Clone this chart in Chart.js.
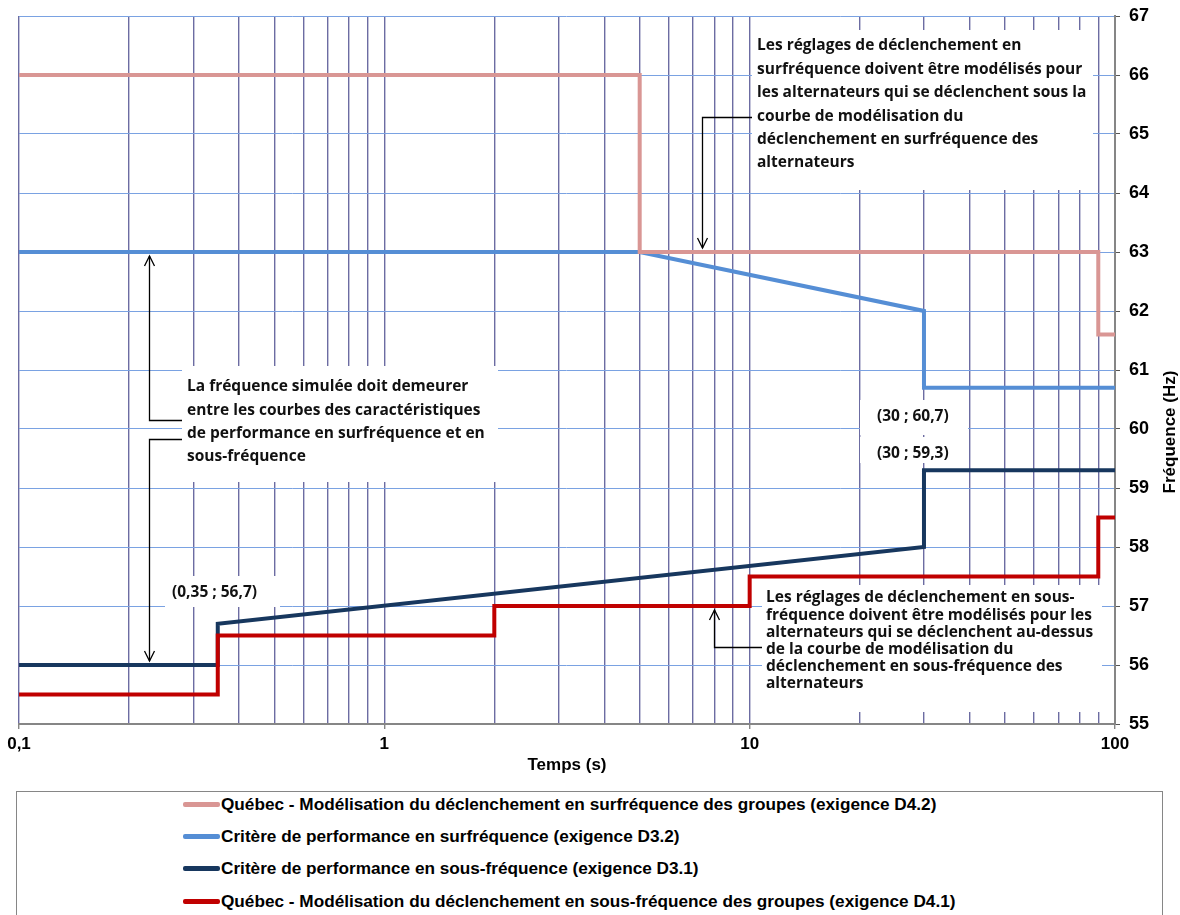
<!DOCTYPE html>
<html lang="fr">
<head>
    <meta charset="UTF-8">
    <title>Caractéristiques de performance en fréquence</title>
    <script src="https://cdn.jsdelivr.net/npm/chart.js"></script>
    <style>
        body { margin: 0; background: #fff; }
        #wrap { position: relative; width: 1180px; height: 780px; }
        #legend {
            position: absolute; left: 16px; top: 791px; width: 1147px; height: 140px;
            border: 1px solid #868686; box-sizing: border-box;
            font: bold 17.2px "Liberation Sans", Arial, sans-serif; color: #000;
        }
        .row { position: absolute; left: 0; height: 20px; line-height: 20px; white-space: nowrap; }
        .sample { position: absolute; left: 166px; top: 8px; width: 37px; height: 5px; border-radius: 2px; }
        .txt { position: absolute; left: 204px; top: 0; }
    </style>
</head>
<body>
    <div id="wrap"><canvas id="freq" width="1180" height="780"></canvas></div>
    <div id="legend"></div>
<script>
    // temps (s) / fréquence (Hz)
    const surX = [0.1, 5, 5, 90, 90, 100];
    const surY = [66, 66, 63, 63, 61.6, 61.6];
    const critSurX = [0.1, 5, 30, 30, 100];
    const critSurY = [63, 63, 62, 60.7, 60.7];
    const critSousX = [0.1, 0.35, 0.35, 30, 30, 100];
    const critSousY = [56, 56, 56.7, 58, 59.3, 59.3];
    const sousX = [0.1, 0.35, 0.35, 2, 2, 10, 10, 90, 90, 100];
    const sousY = [55.5, 55.5, 56.5, 56.5, 57, 57, 57.5, 57.5, 58.5, 58.5];

    const xMajor = [0.1, 1, 10, 100];
    const xMajorLabels = ["0,1", "1", "10", "100"];
    const xMinorSteps = [2, 3, 4, 5, 6, 7, 8, 9];

    const labels = [
        "Québec - Modélisation du déclenchement en surfréquence des groupes (exigence D4.2)",
        "Critère de performance en surfréquence (exigence D3.2)",
        "Critère de performance en sous-fréquence (exigence D3.1)",
        "Québec - Modélisation du déclenchement en sous-fréquence des groupes (exigence D4.1)"
    ];
    const colors = ["#D99694", "#558ED5", "#17375E", "#C00000"];

    function points(xs, ys) {
        return xs.map((x, i) => ({ x: x, y: ys[i] }));
    }

    const notes = [
        { box: [752, 30, 341, 160], x: 757, y: 46, gap: 23.4, lines: [
            "Les réglages de déclenchement en",
            "surfréquence doivent être modélisés pour",
            "les alternateurs qui se déclenchent sous la",
            "courbe de modélisation du",
            "déclenchement en surfréquence des",
            "alternateurs"] },
        { box: [182, 366, 316, 116], x: 187, y: 387, gap: 23.3, lines: [
            "La fréquence simulée doit demeurer",
            "entre les courbes des caractéristiques",
            "de performance en surfréquence et en",
            "sous-fréquence"] },
        { box: [762, 585, 340, 127], x: 766, y: 598, gap: 17.2, lines: [
            "Les réglages de déclenchement en sous-",
            "fréquence doivent être modélisés pour les",
            "alternateurs qui se déclenchent au-dessus",
            "de la courbe de modélisation du",
            "déclenchement en sous-fréquence des",
            "alternateurs"] },
        { box: [860, 400, 108, 35], x: 877, y: 417, gap: 0, lines: ["(30 ; 60,7)"] },
        { box: [860, 437, 108, 26], x: 877, y: 454, gap: 0, lines: ["(30 ; 59,3)"] },
        { box: [165, 576, 115, 31], x: 172, y: 593, gap: 0, lines: ["(0,35 ; 56,7)"] }
    ];

    // connectors: elbow start (px) and arrow tip in data units
    const arrows = [
        { from: [752, 117], tip: [7.4, 63], dir: 1 },
        { from: [182, 420], tip: [0.227, 63], dir: -1 },
        { from: [182, 439], tip: [0.227, 56], dir: 1 },
        { from: [762, 647], tip: [8, 57], dir: -1 }
    ];

    const notesPlugin = {
        id: "notes",
        beforeDatasetsDraw(chart) {
            const ctx = chart.ctx;
            ctx.save();
            ctx.font = "bold 15.5px 'Open Sans', sans-serif";
            ctx.textBaseline = "middle";
            notes.forEach(n => {
                ctx.fillStyle = "#fff";
                ctx.fillRect(n.box[0], n.box[1], n.box[2], n.box[3]);
                ctx.fillStyle = "#111";
                n.lines.forEach((l, i) => ctx.fillText(l, n.x, n.y + i * n.gap));
            });
            ctx.restore();
        },
        afterDatasetsDraw(chart) {
            const ctx = chart.ctx;
            const xs = chart.scales.x, ys = chart.scales.y;
            ctx.save();
            ctx.strokeStyle = "#000";
            ctx.lineWidth = 1.3;
            arrows.forEach(a => {
                const tx = Math.round(xs.getPixelForValue(a.tip[0])) + 0.5;
                const ty = ys.getPixelForValue(a.tip[1]) - a.dir * 4;
                ctx.beginPath();
                ctx.moveTo(a.from[0], a.from[1] + 0.5);
                ctx.lineTo(tx, a.from[1] + 0.5);
                ctx.lineTo(tx, ty);
                ctx.stroke();
                ctx.beginPath();
                ctx.moveTo(tx - 5, ty - a.dir * 10);
                ctx.lineTo(tx, ty);
                ctx.lineTo(tx + 5, ty - a.dir * 10);
                ctx.stroke();
            });
            ctx.restore();
        },
        afterDraw(chart) {
            const ctx = chart.ctx;
            ctx.save();
            ctx.translate(1170, 432);
            ctx.rotate(-Math.PI / 2);
            ctx.font = "bold 17px 'Liberation Sans', Arial, sans-serif";
            ctx.fillStyle = "#000";
            ctx.textAlign = "center";
            ctx.textBaseline = "middle";
            ctx.fillText("Fréquence (Hz)", 0, 0);
            ctx.restore();
        }
    };

    const series = [[surX, surY], [critSurX, critSurY], [critSousX, critSousY], [sousX, sousY]];
    const drawOrder = [0, 2, 3, 1];

    const chart = new Chart(document.getElementById("freq"), {
        type: "line",
        data: {
            datasets: series.map((s, i) => ({
                label: labels[i],
                data: points(s[0], s[1]),
                borderColor: colors[i],
                borderWidth: 4,
                borderJoinStyle: "miter",
                pointRadius: 0,
                tension: 0,
                fill: false,
                order: drawOrder[i]
            }))
        },
        options: {
            responsive: false,
            animation: false,
            layout: { padding: { left: 19, top: 16, right: 0, bottom: 0 } },
            plugins: { legend: { display: false }, tooltip: { enabled: false } },
            scales: {
                x: {
                    type: "logarithmic",
                    min: 0.1,
                    max: 100,
                    afterBuildTicks: scale => {
                        const t = [];
                        xMajor.forEach((d, i) => {
                            t.push(d);
                            if (i < xMajor.length - 1) xMinorSteps.forEach(m => t.push(+(d * m).toPrecision(3)));
                        });
                        scale.ticks = t.map(v => ({ value: v }));
                    },
                    afterFit: scale => {
                        scale.height = 56;
                        scale.paddingLeft = 0;
                        scale.paddingRight = 0;
                    },
                    ticks: {
                        autoSkip: false,
                        maxRotation: 0,
                        padding: 5,
                        color: "#000",
                        font: { family: "'Liberation Sans', Arial", size: 17, weight: "bold" },
                        callback: v => {
                            const i = xMajor.indexOf(v);
                            return i >= 0 ? xMajorLabels[i] : "";
                        }
                    },
                    grid: {
                        color: "rgb(108,108,162)",
                        lineWidth: 1.4,
                        tickLength: 5,
                        tickColor: c => (c.tick && xMajor.includes(c.tick.value)) ? "#868686" : "rgba(0,0,0,0)"
                    },
                    border: { color: "#868686", width: 2 },
                    title: {
                        display: true,
                        text: "Temps (s)",
                        color: "#000",
                        font: { family: "'Liberation Sans', Arial", size: 17, weight: "bold" },
                        padding: { top: 0, bottom: 4 }
                    }
                },
                y: {
                    type: "linear",
                    position: "right",
                    min: 55,
                    max: 67,
                    afterFit: scale => {
                        scale.width = 65;
                        scale.paddingTop = 0;
                        scale.paddingBottom = 0;
                    },
                    ticks: {
                        stepSize: 1,
                        padding: 9,
                        color: "#000",
                        font: { family: "'Liberation Sans', Arial", size: 18, weight: "bold" }
                    },
                    grid: {
                        color: "rgb(122,162,226)",
                        lineWidth: 1,
                        tickLength: 5,
                        tickColor: "#555"
                    },
                    border: { color: "#868686", width: 2 }
                }
            }
        },
        plugins: [notesPlugin]
    });

    // legend in its box below the chart
    const legend = document.getElementById("legend");
    const rowTops = [2, 34, 66, 99];
    chart.data.datasets.forEach((ds, i) => {
        const row = document.createElement("div");
        row.className = "row";
        row.style.top = rowTops[i] + "px";
        row.innerHTML = '<span class="sample" style="background:' + ds.borderColor + '"></span><span class="txt"></span>';
        row.querySelector(".txt").textContent = ds.label;
        legend.appendChild(row);
    });
</script>
</body>
</html>
